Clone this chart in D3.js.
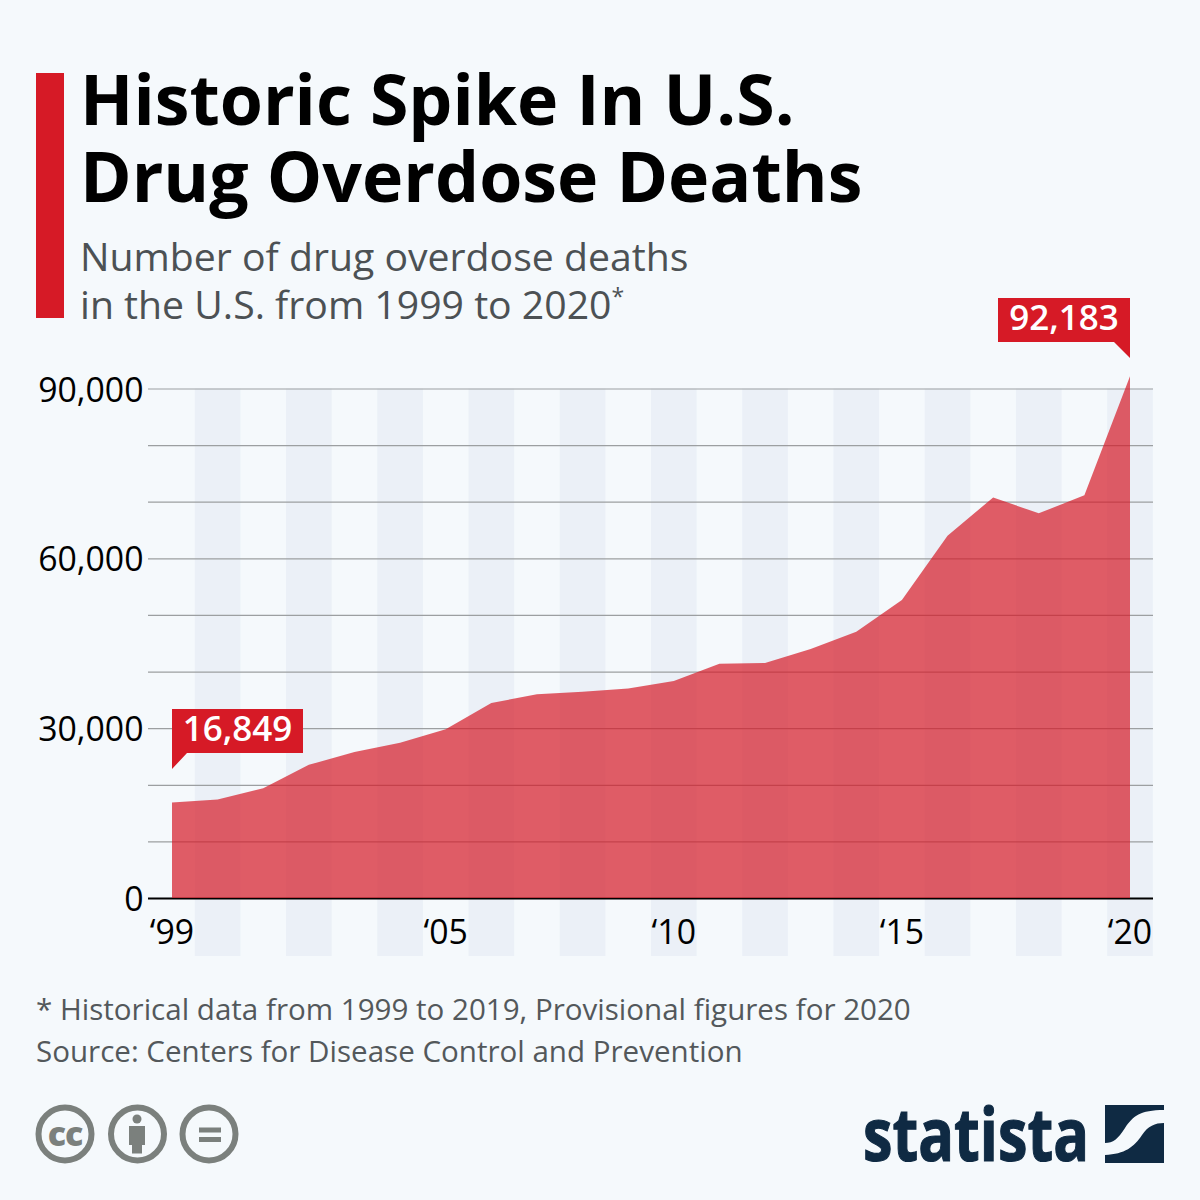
<!DOCTYPE html>
<html>
<head>
<meta charset="utf-8">
<script src="https://cdn.jsdelivr.net/npm/d3@7"></script>
<style>
    html, body { margin: 0; padding: 0; background: #f5f9fc; }
    svg { display: block; }
    text { font-family: "Open Sans", sans-serif; }
    .domain { display: none; }
</style>
</head>
<body>
<div class="chart"></div>
<script>
const years = [1999, 2000, 2001, 2002, 2003, 2004, 2005, 2006, 2007, 2008, 2009, 2010,
    2011, 2012, 2013, 2014, 2015, 2016, 2017, 2018, 2019, 2020];
const deaths = [16849, 17415, 19394, 23518, 25785, 27424, 29813, 34425, 36010, 36450, 37004, 38329,
    41370, 41502, 43982, 47020, 52640, 64000, 70750, 67950, 71130, 92183];
const yTicks = [0, 10000, 20000, 30000, 40000, 50000, 60000, 70000, 80000, 90000];
const yLabelled = [0, 30000, 60000, 90000];
const xLabelled = [1999, 2005, 2010, 2015, 2020];
const bandYears = [2000, 2002, 2004, 2006, 2008, 2010, 2012, 2014, 2016, 2018, 2020];
const titleLines = ["Historic Spike In U.S.", "Drug Overdose Deaths"];
const footLines = ["* Historical data from 1999 to 2019, Provisional figures for 2020",
    "Source: Centers for Disease Control and Prevention"];

const red = "#d61a26";
const svg = d3.select(".chart").append("svg").attr("width", 1200).attr("height", 1200);
svg.append("rect").attr("width", 1200).attr("height", 1200).attr("fill", "#f5f9fc");

// Scales
const x = d3.scaleLinear().domain([1999, 2020]).range([172, 1130]);
const y = d3.scaleLinear().domain([0, 90000]).range([898, 388.5]);
const step = x(2000) - x(1999);

// Header
svg.append("rect").attr("x", 36).attr("y", 73).attr("width", 28).attr("height", 245).attr("fill", red);

svg.selectAll("text.title").data(titleLines).enter().append("text")
    .attr("class", "title")
    .attr("x", 80)
    .attr("y", (d, i) => 125 + i * 77)
    .attr("font-size", 69.8)
    .attr("font-weight", 700)
    .attr("fill", "#000")
    .text(d => d);

const sub = svg.append("g").attr("fill", "#4c5154").attr("font-size", 39.2);
sub.append("text").attr("x", 80).attr("y", 270.5).text("Number of drug overdose deaths");
const sub2 = sub.append("text").attr("x", 80).attr("y", 318.5).text("in the U.S. from 1999 to 2020");
sub2.append("tspan").attr("font-size", 23).attr("dy", -14).text("*");

// Alternating year bands
svg.selectAll("rect.band").data(bandYears).enter().append("rect")
    .attr("class", "band")
    .attr("x", d => x(d) - step / 2)
    .attr("y", y(90000))
    .attr("width", step)
    .attr("height", 956 - y(90000))
    .attr("fill", "#ebf0f7");

// Y axis with gridlines
const yAxis = svg.append("g")
    .attr("transform", "translate(148,0)")
    .call(d3.axisRight(y).tickValues(yTicks).tickSize(1153 - 148).tickFormat(""));
yAxis.selectAll(".tick line").attr("stroke", "#9c9fa1").attr("stroke-width", 1.2);
yAxis.selectAll(".tick").filter(d => d === 0).select("line").attr("stroke", "#000").attr("stroke-width", 2);

// Area
const area = d3.area()
    .x((d, i) => x(years[i]))
    .y0(y(0))
    .y1(d => y(d));
svg.append("path").datum(deaths).attr("d", area).attr("fill", red).attr("opacity", 0.7);

// Tick labels
svg.selectAll("text.ylab").data(yLabelled).enter().append("text")
    .attr("class", "ylab")
    .attr("x", 143.5)
    .attr("y", d => y(d) + 13)
    .attr("text-anchor", "end")
    .attr("font-size", 33.8)
    .attr("fill", "#000")
    .text(d => d3.format(",")(d));

svg.selectAll("text.xlab").data(xLabelled).enter().append("text")
    .attr("class", "xlab")
    .attr("x", d => x(d))
    .attr("y", 944)
    .attr("text-anchor", "middle")
    .attr("font-size", 33.8)
    .attr("fill", "#000")
    .text(d => "\u2018" + String(d).slice(2));

// Callouts
function callout(value, boxLeft, boxTop, pts) {
    const g = svg.append("g");
    g.append("path")
        .attr("d", d3.line()(pts))
        .attr("fill", red);
    g.append("text")
        .attr("x", boxLeft + 66)
        .attr("y", boxTop + 32)
        .attr("text-anchor", "middle")
        .attr("font-size", 35)
        .attr("font-weight", 600)
        .attr("fill", "#fff")
        .text(d3.format(",")(value));
}
const lastX = x(2020), firstX = x(1999);
callout(deaths[21], 998, 298, [[998, 298], [lastX, 298], [lastX, 358], [lastX - 16, 342], [998, 342]]);
callout(deaths[0], firstX - 0.5, 709, [[firstX, 709], [303, 709], [303, 753], [firstX + 15, 753], [firstX, 769]]);

// Footer
svg.selectAll("text.foot").data(footLines).enter().append("text")
    .attr("class", "foot")
    .attr("x", 36)
    .attr("y", (d, i) => 1020 + i * 42)
    .attr("font-size", 29.55)
    .attr("fill", "#53585b")
    .text(d => d);

// Licence icons
const grey = "#7b807d";
const icons = svg.append("g");
[65, 137.5, 209].forEach(cx => {
    icons.append("circle").attr("cx", cx).attr("cy", 1134).attr("r", 26.5)
        .attr("fill", "none").attr("stroke", grey).attr("stroke-width", 6);
});
icons.append("text").attr("x", 65).attr("y", 1146).attr("text-anchor", "middle")
    .attr("font-size", 34).attr("font-weight", 800).attr("letter-spacing", -1).attr("fill", grey).text("cc");
icons.append("circle").attr("cx", 137).attr("cy", 1119).attr("r", 4.5).attr("fill", grey);
icons.append("path").attr("fill", grey)
    .attr("d", "M129,1126H145V1145H142V1153.5H132V1145H129Z");
icons.append("rect").attr("x", 199).attr("y", 1127.5).attr("width", 22).attr("height", 5).attr("fill", grey);
icons.append("rect").attr("x", 199).attr("y", 1137).attr("width", 22).attr("height", 5).attr("fill", grey);

// Statista logo
const navy = "#0f2a43";
svg.append("text").attr("x", 863).attr("y", 1161)
    .attr("font-size", 74).attr("font-weight", 700).attr("fill", navy)
    .attr("stroke", navy).attr("stroke-width", 1.2)
    .attr("textLength", 226).attr("lengthAdjust", "spacingAndGlyphs")
    .text("statista");
svg.append("path").attr("fill", navy)
    .attr("d", "M1105,1105H1164V1110C1140,1110 1133,1116 1125,1128C1118,1139 1113,1143 1105,1143Z");
svg.append("path").attr("fill", navy)
    .attr("d", "M1164,1123V1163H1105V1155C1125,1154 1134,1147 1142,1135C1148,1126 1155,1123 1164,1123Z");
</script>
</body>
</html>
